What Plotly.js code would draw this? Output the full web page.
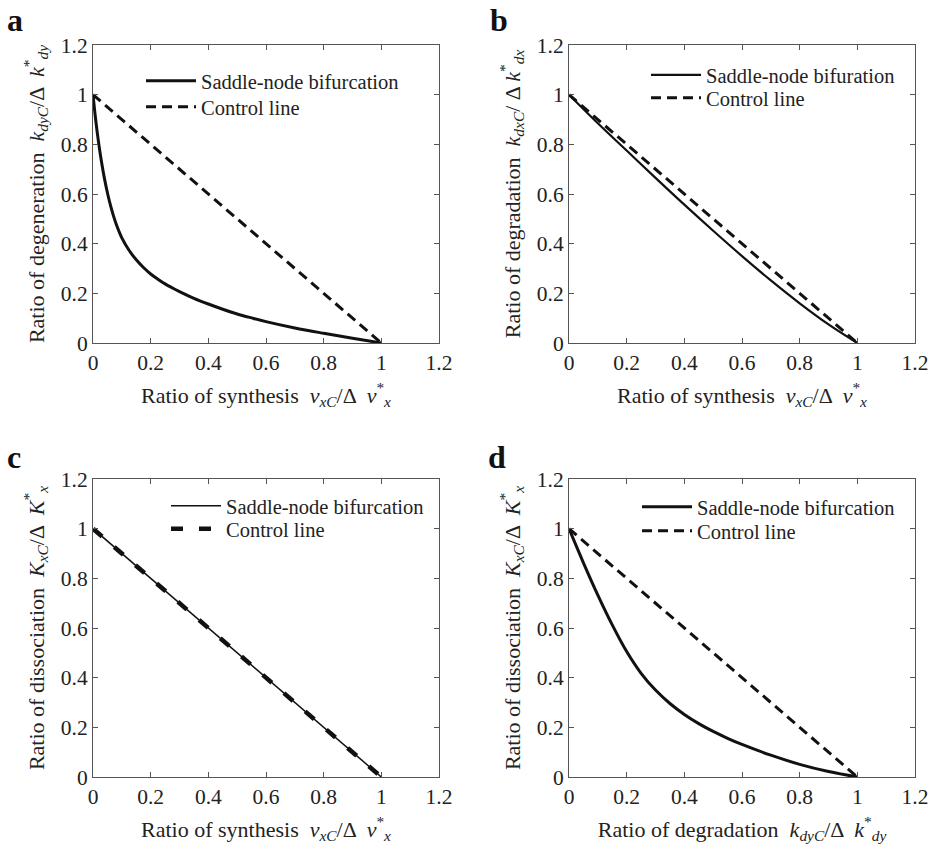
<!DOCTYPE html>
<html><head><meta charset="utf-8">
<script src="https://cdn.plot.ly/plotly-3.0.1.min.js"></script>
<style>html,body{margin:0;padding:0;background:#fff}</style>
</head><body><div id="chart" style="width:936px;height:853px"></div>
<script>
// Control line (same in every panel)
const ctrlX = [0, 1];
const ctrlY = [1, 0];
// Panel a: saddle-node bifurcation
const aX = [0, 0.01, 0.02, 0.03, 0.04, 0.05, 0.06, 0.07, 0.08, 0.09, 0.1, 0.125, 0.15, 0.175, 0.2, 0.225, 0.25, 0.275, 0.3, 0.35, 0.4, 0.45, 0.5, 0.55, 0.6, 0.7, 0.8, 0.9, 1];
const aY = [1, 0.892, 0.802, 0.726, 0.661, 0.605, 0.557, 0.516, 0.48, 0.45, 0.4235, 0.3735, 0.335, 0.304, 0.278, 0.257, 0.238, 0.222, 0.207, 0.18, 0.157, 0.136, 0.117, 0.101, 0.086, 0.0605, 0.039, 0.019, 0];
// Panel b
const bX = [0, 0.1, 0.2, 0.3, 0.4, 0.5, 0.6, 0.7, 0.8, 0.9, 1];
const bY = [1, 0.885, 0.775, 0.665, 0.557, 0.452, 0.35, 0.252, 0.16, 0.075, 0];
// Panel c
const cX = [0, 0.2, 0.4, 0.6, 0.8, 1];
const cY = [1, 0.8, 0.6, 0.4, 0.2, 0];
// Panel d
const dX = [0, 0.05, 0.1, 0.15, 0.2, 0.25, 0.3, 0.35, 0.4, 0.45, 0.5, 0.55, 0.6, 0.7, 0.8, 0.9, 1];
const dY = [1, 0.8625, 0.7325, 0.6125, 0.505, 0.4175, 0.35, 0.296, 0.252, 0.215, 0.1835, 0.156, 0.131, 0.088, 0.051, 0.022, 0];

const tickVals = [0, 0.2, 0.4, 0.6, 0.8, 1, 1.2];
const tickText = ['0', '0.2', '0.4', '0.6', '0.8', '1', '1.2'];

const nameSaddle = 'Saddle-node bifurcation';
const nameSaddleB = 'Saddle-node bifuration';
const nameCtrl = 'Control line';

const FONT = '"Liberation Serif", "DejaVu Serif", serif';
const DASH = '10px,6px';

const traces = [
  {x: aX, y: aY, xaxis: 'x', yaxis: 'y', name: nameSaddle, legend: 'legend', mode: 'lines', line: {color: '#111', width: 3, shape: 'spline', smoothing: 1}},
  {x: ctrlX, y: ctrlY, xaxis: 'x', yaxis: 'y', name: nameCtrl, legend: 'legend5', mode: 'lines', line: {color: '#111', width: 3, dash: DASH}},
  {x: bX, y: bY, xaxis: 'x2', yaxis: 'y2', name: nameSaddleB, legend: 'legend2', mode: 'lines', line: {color: '#111', width: 2.2, shape: 'spline', smoothing: 1}},
  {x: ctrlX, y: ctrlY, xaxis: 'x2', yaxis: 'y2', name: nameCtrl, legend: 'legend6', mode: 'lines', line: {color: '#111', width: 3, dash: DASH}},
  {x: cX, y: cY, xaxis: 'x3', yaxis: 'y3', name: nameSaddle, legend: 'legend3', mode: 'lines', line: {color: '#111', width: 1.5}},
  {x: ctrlX, y: ctrlY, xaxis: 'x3', yaxis: 'y3', name: nameCtrl, legend: 'legend7', mode: 'lines', line: {color: '#111', width: 4.5, dash: '12px,16px'}},
  {x: dX, y: dY, xaxis: 'x4', yaxis: 'y4', name: nameSaddle, legend: 'legend4', mode: 'lines', line: {color: '#111', width: 3, shape: 'spline', smoothing: 1}},
  {x: ctrlX, y: ctrlY, xaxis: 'x4', yaxis: 'y4', name: nameCtrl, legend: 'legend8', mode: 'lines', line: {color: '#111', width: 3, dash: DASH}}
];

const W = 936, H = 853;
const px = v => v / W;
const py = v => 1 - v / H;

function axis(domain, anchor, title, standoff) {
  return {
    domain: domain, anchor: anchor, range: [0, 1.2], tickvals: tickVals, ticktext: tickText,
    ticks: 'inside', ticklen: 5, tickwidth: 1, tickcolor: '#555',
    showline: true, linecolor: '#555', linewidth: 1, mirror: 'ticks',
    showgrid: false, zeroline: false, fixedrange: true,
    tickfont: {family: FONT, size: 21.5, color: '#222'},
    title: {text: title, standoff: standoff, font: {family: FONT, size: 22, color: '#222'}}
  };
}

const xTitleSyn = 'Ratio of synthesis  <i>v</i><sub><i>xC</i></sub>/Δ  <i>v</i><sup>*</sup><sub><i>x</i></sub>';
const xTitleDeg = 'Ratio of degradation  <i>k</i><sub><i>dyC</i></sub>/Δ  <i>k</i><sup>*</sup><sub><i>dy</i></sub>';
const yTitleA = 'Ratio of degeneration  <i>k</i><sub><i>dyC</i></sub>/Δ  <i>k</i><sup>*</sup><sub><i>dy</i></sub>';
const yTitleB = 'Ratio of degradation  <i>k</i><sub><i>dxC</i></sub>/ Δ <i>k</i><sup>*</sup><sub><i>dx</i></sub>';
const yTitleC = 'Ratio of dissociation  <i>K</i><sub><i>xC</i></sub>/Δ  <i>K</i><sup>*</sup><sub><i>x</i></sub>';

const colL = [px(93), px(439)], colR = [px(569), px(915)];
const rowT = [py(343), py(45)], rowB = [py(777), py(479)];

function leg(x, y) {
  return {x: x, y: y, xanchor: 'left', yanchor: 'top', bgcolor: 'rgba(0,0,0,0)', borderwidth: 0,
    font: {family: FONT, size: 20.5, color: '#222'}, itemwidth: 50, tracegroupgap: 0};
}

function label(t, x, yt) {
  return {text: '<b>' + t + '</b>', x: px(x), y: py(yt), xref: 'paper', yref: 'paper', xanchor: 'left', yanchor: 'top',
    showarrow: false, font: {family: FONT, size: 32, color: '#111'}};
}

const layout = {
  width: W, height: H, margin: {l: 0, r: 0, t: 0, b: 0},
  paper_bgcolor: '#fff', plot_bgcolor: '#fff', showlegend: true,
  font: {family: FONT, color: '#222'},
  xaxis: axis(colL, 'y', xTitleSyn, 13),
  yaxis: axis(rowT, 'x', yTitleA, 10),
  xaxis2: axis(colR, 'y2', xTitleSyn, 13),
  yaxis2: axis(rowT, 'x2', yTitleB, 10),
  xaxis3: axis(colL, 'y3', xTitleSyn, 13),
  yaxis3: axis(rowB, 'x3', yTitleC, 10),
  xaxis4: axis(colR, 'y4', xTitleDeg, 13),
  yaxis4: axis(rowB, 'x4', yTitleC, 10),
  legend: leg(px(141), py(61)),
  legend5: leg(px(141), py(87)),
  legend2: leg(px(646), py(55)),
  legend6: leg(px(646), py(78)),
  legend3: leg(px(166), py(486)),
  legend7: leg(px(166), py(509)),
  legend4: leg(px(637), py(487)),
  legend8: leg(px(637), py(511)),
  annotations: [
    label('a', 5, 0),
    label('b', 488, 0),
    label('c', 5, 437),
    label('d', 486, 437)
  ]
};

Plotly.newPlot('chart', traces, layout, {displayModeBar: false});
</script></body></html>
